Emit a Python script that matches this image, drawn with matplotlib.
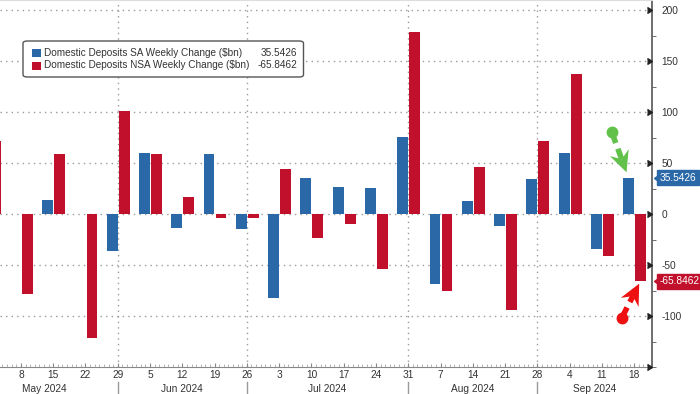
import numpy as np
import pandas as pd
import matplotlib
matplotlib.use('Agg')
import matplotlib.pyplot as plt
import matplotlib.dates as mdates
from matplotlib.transforms import blended_transform_factory
from matplotlib.patches import FancyBboxPatch, Rectangle, Polygon

# weekly data (Wednesdays)
dates = pd.to_datetime(['2024-05-01', '2024-05-08', '2024-05-15', '2024-05-22', '2024-05-29',
                        '2024-06-05', '2024-06-12', '2024-06-19', '2024-06-26',
                        '2024-07-03', '2024-07-10', '2024-07-17', '2024-07-24', '2024-07-31',
                        '2024-08-07', '2024-08-14', '2024-08-21', '2024-08-28',
                        '2024-09-04', '2024-09-11', '2024-09-18'])
sa = [10.0, 0.6, 13.7, 0.4, -35.6, 60.3, -13.7, 58.7, -14.7, -82.3, 35.3,
      27.0, 25.4, 76.0, -68.0, 13.0, -11.8, 34.3, 60.3, -34.0, 35.5426]
nsa = [71.5, -78.4, 59.3, -121.5, 101.2, 59.3, 16.6, -3.3, -3.9, 44.4, -22.9,
       -9.1, -53.6, 178.6, -75.5, 46.3, -94.0, 72.1, 137.1, -40.9, -65.8462]

sa_label = 'Domestic Deposits SA Weekly Change ($bn)'
nsa_label = 'Domestic Deposits NSA Weekly Change ($bn)'
month_breaks = pd.to_datetime(['2024-05-29', '2024-06-26', '2024-07-31', '2024-08-28'])
month_names = ['May 2024', 'Jun 2024', 'Jul 2024', 'Aug 2024', 'Sep 2024']
y_ticks = [200, 150, 100, 50, 0, -50, -100]

BLUE = '#2a68a7'
RED = '#c1102c'
GRID = '#9a9a9a'
TXT = '#333333'

plt.rcParams['font.family'] = ['Liberation Sans', 'DejaVu Sans']

fig = plt.figure(figsize=(7, 3.94), dpi=100)
ax = fig.add_axes([0.0, 0.0675, 0.931, 0.9325])

x = mdates.date2num(dates)
w = 2.35
ax.bar(x - 1.2, sa, width=w, color=BLUE, zorder=3)
ax.bar(x + 1.4, nsa, width=w, color=RED, zorder=3)

xmin = mdates.date2num(pd.Timestamp('2024-05-03 11:00'))
xmax = mdates.date2num(pd.Timestamp('2024-09-21 19:00'))
ax.set_xlim(xmin, xmax)
ax.set_ylim(-150, 209.8)

# grid
tr = blended_transform_factory(ax.transData, ax.transAxes)
for yv in y_ticks:
    ax.axhline(yv, color=GRID, lw=1.0, ls=(0, (1, 3)), zorder=1)
for mb in mdates.date2num(month_breaks):
    ax.axvline(mb, color=GRID, lw=1.0, ls=(0, (1, 3)), zorder=1)
    ax.plot([mb, mb], [-0.04, -0.075], color='#999999', lw=1.0, transform=tr, clip_on=False)

# spines
ax.spines['left'].set_visible(False)
ax.spines['top'].set_color('#dddddd')
ax.spines['right'].set_color('#555555')
ax.spines['right'].set_linewidth(1.2)
ax.spines['bottom'].set_color('#888888')

# x ticks
ax.set_xticks(x[1:])
ax.set_xticklabels([str(d.day) for d in dates[1:]])
ax.xaxis.set_minor_locator(mdates.DayLocator())
ax.tick_params(axis='x', which='major', length=3, direction='in', color='#888888',
               labelsize=7.3, labelcolor=TXT, pad=2)
ax.tick_params(axis='x', which='minor', length=2, direction='in', color='#aaaaaa')

# month labels
edges = [mdates.date2num(pd.Timestamp('2024-04-27'))] + list(mdates.date2num(month_breaks)) + [xmax]
for i, name in enumerate(month_names):
    ax.text((edges[i] + edges[i + 1]) / 2, -0.058, name, transform=tr, ha='center', va='center',
            fontsize=7.3, color=TXT, clip_on=False)

# y axis on right
ax.yaxis.tick_right()
ax.set_yticks(y_ticks)
ax.set_yticklabels([str(v) for v in y_ticks])
ax.set_yticks(np.arange(-150, 201, 25), minor=True)
ax.tick_params(axis='y', which='major', length=0, labelsize=7.3, labelcolor=TXT, pad=7)
ax.tick_params(axis='y', which='minor', length=3, color='#555555', direction='out')
tr_y = blended_transform_factory(ax.transAxes, ax.transData)
ax.plot([1.0] * (len(y_ticks) + 1), y_ticks + [-150], ls='none', marker=5, ms=4.5,
        color='#222222', transform=tr_y, clip_on=False, zorder=5)

# last value tags
for val, col in [(sa[-1], BLUE), (nsa[-1], RED)]:
    ax.text(1.012, val, f'{val:.4f}', transform=tr_y, ha='left', va='center', fontsize=7.3,
            color='white', clip_on=False,
            bbox=dict(boxstyle='square,pad=0.25', fc=col, ec=col))
    ax.plot([1.0035], [val], marker=4, ms=7, color=col, transform=tr_y, clip_on=False)


# hand-drawn style arrows (dot + dashed shaft + notched head)
def draw_arrow(p0, p1, col):
    a = ax.transData.transform(p0)
    b = ax.transData.transform(p1)
    d = b - a
    u = d / np.hypot(*d)
    n = np.array([-u[1], u[0]])
    head_len, head_w = 19, 10
    base = b - u * head_len
    ax.plot([p0[0]], [p0[1]], marker='o', ms=7.5, color=col, zorder=6)
    shaft = ax.transData.inverted().transform([a, base + u * 5])
    ax.plot(shaft[:, 0], shaft[:, 1], color=col, lw=4, ls=(0, (2.2, 1.1)), zorder=6,
            solid_capstyle='butt')
    pts = [b, base + n * head_w - u * 2, base + u * 5, base - n * head_w - u * 2]
    tri = ax.transData.inverted().transform(pts)
    ax.add_patch(Polygon(tri, closed=True, fc=col, ec='none', zorder=6))


draw_arrow((mdates.date2num(pd.Timestamp('2024-09-13 02:00')), 81),
           (mdates.date2num(pd.Timestamp('2024-09-16 08:00')), 41), '#62c14a')
draw_arrow((mdates.date2num(pd.Timestamp('2024-09-15 06:00')), -102),
           (mdates.date2num(pd.Timestamp('2024-09-19 02:00')), -68), '#ee1111')

# legend
px = lambda v: v / 700
py = lambda v: 1 - v / 394
fig.patches.append(FancyBboxPatch((px(23), py(77)), px(280.5), py(41) - py(77),
                                  boxstyle='round,pad=0,rounding_size=0.006',
                                  transform=fig.transFigure, fc='white', ec='#555555', lw=1.0, zorder=10))
for yy, col, lab, val in [(52.8, BLUE, sa_label, sa[-1]), (65.5, RED, nsa_label, nsa[-1])]:
    fig.patches.append(Rectangle((px(31.5), py(yy + 4)), px(9), py(yy - 4) - py(yy + 4),
                                 transform=fig.transFigure, fc=col, ec='none', zorder=11))
    fig.text(px(44), py(yy), lab, fontsize=7.2, color=TXT, va='center', ha='left', zorder=12)
    fig.text(px(297), py(yy), f'{val:.4f}', fontsize=7.2, color=TXT, va='center', ha='right', zorder=12)

fig.savefig('out.png', dpi=100)
